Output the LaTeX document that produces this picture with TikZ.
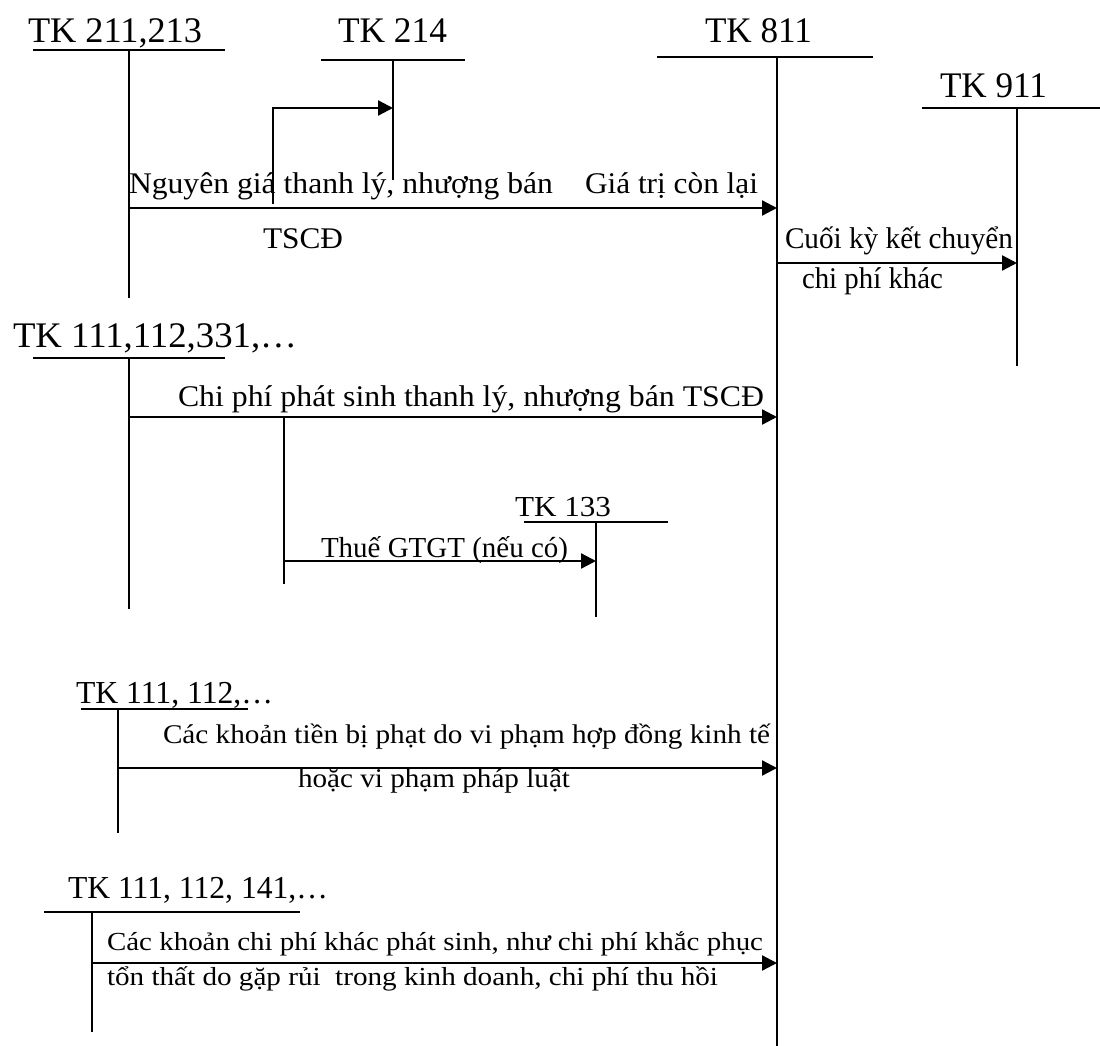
\documentclass[tikz,border=0pt]{standalone}
\usepackage{fontspec}
\setmainfont{Liberation Serif}
\usetikzlibrary{arrows.meta}
\newcommand{\FitTxt}[3]{{\fontsize{#2}{#2}\selectfont\resizebox{#1pt}{\height}{#3}}}
\begin{document}
\begin{tikzpicture}[x=1pt,y=-1pt,
  acct/.style={line width=1.7pt},
  flow/.style={line width=2.3pt,-{Triangle[length=15pt,width=15pt]}},
  lbl/.style={anchor=base west,inner sep=0pt,outer sep=0pt}]
\useasboundingbox (0,0) rectangle (1100,1046);

% ---- account titles ----
\node[lbl] (n211) at (28,43) {\FitTxt{174}{36}{TK 211,213}};
\node[lbl] (n214) at (338,43) {\FitTxt{109}{36}{TK 214}};
\node[lbl] (n811) at (705,43) {\FitTxt{107}{36}{TK 811}};
\node[lbl] (n911) at (940,98) {\FitTxt{107}{36}{TK 911}};
\node[lbl] (n111a) at (13,347) {\FitTxt{284}{36}{TK 111,112,331,…}};
\node[lbl] (n133) at (515,516) {\FitTxt{96}{29}{TK 133}};
\node[lbl] (n111b) at (76,703) {\FitTxt{197}{32}{TK 111, 112,…}};
\node[lbl] (n111c) at (68,898) {\FitTxt{260}{32}{TK 111, 112, 141,…}};

% ---- T-account coordinates ----
\coordinate (h211l) at (33,50);  \coordinate (h211r) at (225,50);
\coordinate (v211t) at (129,50); \coordinate (v211b) at (129,298);
\coordinate (h214l) at (321,60); \coordinate (h214r) at (465,60);
\coordinate (v214t) at (393,60); \coordinate (v214b) at (393,180);
\coordinate (h811l) at (657,57); \coordinate (h811r) at (873,57);
\coordinate (v811t) at (777,57); \coordinate (v811b) at (777,1046);
\coordinate (h911l) at (922,108); \coordinate (h911r) at (1100,108);
\coordinate (v911t) at (1017,108); \coordinate (v911b) at (1017,366);
\coordinate (h111al) at (33,358); \coordinate (h111ar) at (225,358);
\coordinate (v111at) at (129,358); \coordinate (v111ab) at (129,609);
\coordinate (h133l) at (524,522); \coordinate (h133r) at (668,522);
\coordinate (v133t) at (596,522); \coordinate (v133b) at (596,617);
\coordinate (h111bl) at (81,709); \coordinate (h111br) at (248,709);
\coordinate (v111bt) at (118,709); \coordinate (v111bb) at (118,833);
\coordinate (h111cl) at (44,912); \coordinate (h111cr) at (300,912);
\coordinate (v111ct) at (92,912); \coordinate (v111cb) at (92,1032);

\foreach \a in {211,214,811,911,111a,133,111b,111c}{
  \draw[acct] (h\a l) -- (h\a r);
  \draw[acct] (v\a t) -- (v\a b);
}

% ---- flows ----
\coordinate (f1s) at (129,208); \coordinate (f1e) at (777,208);
\draw[flow] (f1s) -- (f1e);
\coordinate (f2s) at (273,204); \coordinate (f2m) at (273,108); \coordinate (f2e) at (393,108);
\draw[flow] (f2s) -- (f2m) -- (f2e);
\coordinate (f3s) at (777,263); \coordinate (f3e) at (1017,263);
\draw[flow] (f3s) -- (f3e);
\coordinate (f4s) at (129,417); \coordinate (f4e) at (777,417);
\draw[flow] (f4s) -- (f4e);
\coordinate (b5t) at (284,417); \coordinate (b5b) at (284,584);
\draw[acct] (b5t) -- (b5b);
\coordinate (f5s) at (284,561); \coordinate (f5e) at (596,561);
\draw[flow] (f5s) -- (f5e);
\coordinate (f6s) at (118,768); \coordinate (f6e) at (777,768);
\draw[flow] (f6s) -- (f6e);
\coordinate (f7s) at (92,963); \coordinate (f7e) at (777,963);
\draw[flow] (f7s) -- (f7e);

% ---- labels ----
\node[lbl] (l1a) at (129,193) {\FitTxt{424}{30}{Nguyên giá thanh lý, nhượng bán}};
\node[lbl] (l1b) at (585,193) {\FitTxt{173}{30}{Giá trị còn lại}};
\node[lbl] (l1c) at (263,248) {\FitTxt{80}{30}{TSCĐ}};
\node[lbl] (l3a) at (785,248) {\FitTxt{228}{30}{Cuối kỳ kết chuyển}};
\node[lbl] (l3b) at (802,288) {\FitTxt{141}{30}{chi phí khác}};
\node[lbl] (l4) at (178,406) {\FitTxt{586}{30}{Chi phí phát sinh thanh lý, nhượng bán TSCĐ}};
\node[lbl] (l5) at (321,557) {\FitTxt{247}{29}{Thuế GTGT (nếu có)}};
\node[lbl] (l6a) at (163,743) {\FitTxt{607}{27}{Các khoản tiền bị phạt do vi phạm hợp đồng kinh tế}};
\node[lbl] (l6b) at (298,787) {\FitTxt{272}{27}{hoặc vi phạm pháp luật}};
\node[lbl] (l7a) at (107,950) {\FitTxt{656}{26}{Các khoản chi phí khác phát sinh, như chi phí khắc phục}};
\node[lbl] (l7b) at (107,985) {\FitTxt{611}{26}{tổn thất do gặp rủi\ \ trong kinh doanh, chi phí thu hồi}};
\end{tikzpicture}
\end{document}
